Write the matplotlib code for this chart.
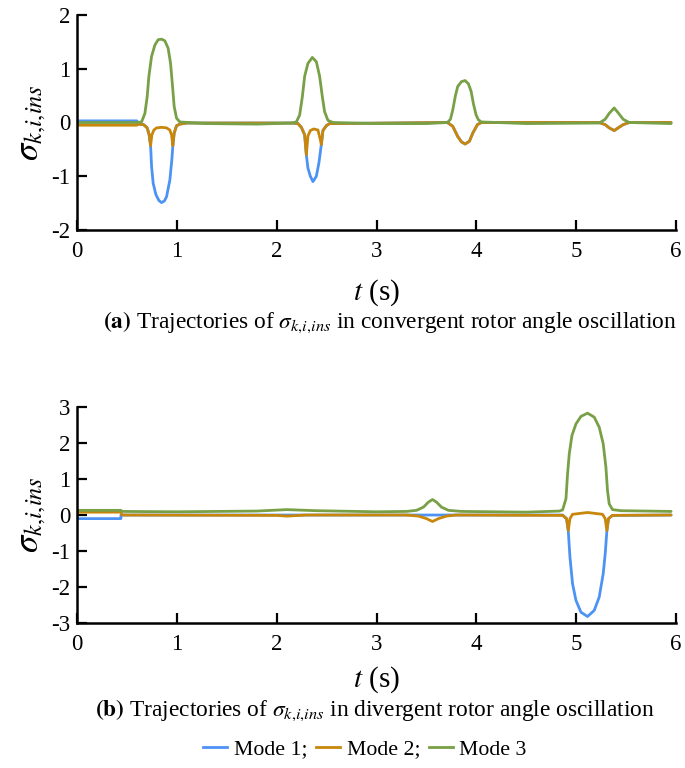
import matplotlib
matplotlib.use('Agg')
import matplotlib.pyplot as plt
from matplotlib.lines import Line2D

plt.rcParams['font.family'] = ['Liberation Serif', 'DejaVu Serif']
plt.rcParams['mathtext.fontset'] = 'stix'
plt.rcParams['axes.unicode_minus'] = False

# ---- (a) convergent oscillation ----
ta_m1 = [0, 0.6, 0.613, 0.667, 0.703, 0.723, 0.737, 0.747, 0.763, 0.79, 0.82, 0.847, 0.875, 0.897,
         0.93, 0.95, 0.96, 0.973, 0.997, 1.03, 1.1, 2.15, 2.213, 2.247, 2.28, 2.297, 2.313, 2.337,
         2.363, 2.397, 2.423, 2.447, 2.463, 2.497, 2.53,
         3.71, 3.763, 3.813, 3.85, 3.887, 3.93, 3.963, 4.01, 4.05,
         5.23, 5.29, 5.33, 5.38, 5.42, 5.47, 5.53, 5.95]
sa_m1 = [0.03, 0.03, -0.03, -0.04, -0.1, -0.23, -0.43, -0.82, -1.13, -1.34, -1.45, -1.49, -1.46,
         -1.38, -1.07, -0.69, -0.43, -0.2, -0.06, -0.03, -0.01, -0.01, -0.02, -0.09, -0.23, -0.6,
         -0.85, -1.0, -1.1, -1.0, -0.75, -0.41, -0.15, -0.06, -0.02,
         0.0, -0.07, -0.26, -0.36, -0.4, -0.35, -0.2, -0.04, 0.0,
         0.0, -0.04, -0.1, -0.15, -0.1, -0.04, 0.0, 0.0]

ta_m2 = [0, 0.6, 0.613, 0.667, 0.703, 0.723, 0.737, 0.75, 0.77, 0.797, 0.847, 0.897, 0.93, 0.947,
         0.96, 0.973, 0.997, 1.03, 1.1, 2.15, 2.213, 2.247, 2.28, 2.297, 2.313, 2.337, 2.37, 2.413,
         2.437, 2.447, 2.463, 2.497, 2.53,
         3.71, 3.763, 3.813, 3.85, 3.887, 3.93, 3.963, 4.01, 4.05,
         5.23, 5.29, 5.33, 5.38, 5.42, 5.47, 5.53, 5.95]
sa_m2 = [-0.05, -0.05, -0.03, -0.04, -0.1, -0.23, -0.43, -0.23, -0.14, -0.1, -0.09, -0.1, -0.14,
         -0.23, -0.43, -0.2, -0.06, -0.03, -0.01, -0.01, -0.02, -0.09, -0.23, -0.6, -0.25, -0.15,
         -0.12, -0.14, -0.32, -0.41, -0.15, -0.06, -0.02,
         0.0, -0.07, -0.26, -0.36, -0.4, -0.35, -0.2, -0.04, 0.0,
         0.0, -0.04, -0.1, -0.15, -0.1, -0.04, 0.0, 0.0]

ta_m3 = [0, 0.6, 0.647, 0.68, 0.703, 0.72, 0.747, 0.78, 0.813, 0.847, 0.88, 0.913, 0.937, 0.957,
         0.973, 0.997, 1.03, 1.3, 1.8, 2.15, 2.197, 2.23, 2.257, 2.28, 2.313, 2.357, 2.397, 2.43,
         2.457, 2.48, 2.513, 2.563, 3.0, 3.5,
         3.71, 3.74, 3.763, 3.79, 3.813, 3.85, 3.887, 3.92, 3.947, 3.97, 3.997, 4.02, 4.05, 4.5,
         5.23, 5.29, 5.33, 5.38, 5.42, 5.47, 5.53, 5.95]
sa_m3 = [0.0, 0.0, 0.01, 0.17, 0.48, 0.86, 1.23, 1.44, 1.54, 1.55, 1.52, 1.38, 1.1, 0.67, 0.3,
         0.08, 0.01, -0.02, -0.03, -0.01, 0.01, 0.14, 0.48, 0.86, 1.1, 1.21, 1.13, 0.86, 0.48, 0.2,
         0.04, 0.0, -0.02, -0.02,
         0.0, 0.06, 0.23, 0.5, 0.67, 0.76, 0.78, 0.72, 0.58, 0.35, 0.14, 0.05, 0.01, -0.02,
         -0.01, 0.06, 0.17, 0.27, 0.18, 0.06, 0.0, -0.02]

# ---- (b) divergent oscillation ----
tb_m1 = [0, 0, 0.44, 0.44, 0.45, 4.863, 4.903, 4.92, 4.937, 4.963, 4.997, 5.047, 5.113, 5.18,
         5.23, 5.27, 5.29, 5.307, 5.323, 5.363, 5.95]
sb_m1 = [0.08, -0.1, -0.1, 0.0, 0.0, 0.0, -0.1, -0.43, -1.17, -1.91, -2.37, -2.7, -2.82, -2.65,
         -2.28, -1.63, -1.08, -0.43, -0.1, -0.01, 0.0]

tb_m2 = [0, 0.44, 0.45, 2.0, 2.1, 2.3, 3.3, 3.42, 3.5, 3.56, 3.62, 3.7, 3.8, 4.863, 4.903, 4.92,
         4.937, 4.963, 5.113, 5.263, 5.29, 5.307, 5.323, 5.363, 5.95]
sb_m2 = [0.08, 0.08, 0.0, -0.01, -0.03, 0.0, 0.0, -0.03, -0.1, -0.18, -0.1, -0.03, 0.0, -0.01,
         -0.1, -0.43, -0.1, 0.02, 0.07, 0.02, -0.1, -0.43, -0.1, -0.01, 0.0]

tb_m3 = [0, 0.44, 0.45, 1.0, 1.8, 2.1, 2.4, 3.0, 3.3, 3.4, 3.47, 3.52, 3.56, 3.6, 3.65, 3.72,
         3.85, 4.5, 4.83, 4.863, 4.897, 4.913, 4.93, 4.957, 4.997, 5.047, 5.113, 5.18, 5.23, 5.27,
         5.297, 5.313, 5.33, 5.363, 5.45, 5.95]
sb_m3 = [0.13, 0.13, 0.1, 0.09, 0.11, 0.15, 0.12, 0.09, 0.1, 0.13, 0.22, 0.36, 0.43, 0.36, 0.22,
         0.13, 0.1, 0.08, 0.11, 0.14, 0.45, 1.14, 1.7, 2.21, 2.53, 2.74, 2.83, 2.72, 2.44, 1.98,
         1.33, 0.68, 0.31, 0.15, 0.12, 0.1]

mode_names = ['Mode 1;', 'Mode 2;', 'Mode 3']
colors = ['#4C93F5', '#C8860B', '#78A046']

fig = plt.figure(figsize=(6.85, 7.68), dpi=100)
ax1 = fig.add_axes([0.1124, 0.7005, 0.8746, 0.28])
ax2 = fig.add_axes([0.1124, 0.1888, 0.8746, 0.2812])

panels = [
    (ax1, [(ta_m1, sa_m1), (ta_m2, sa_m2), (ta_m3, sa_m3)], (-2, 2), range(-2, 3), 11),
    (ax2, [(tb_m1, sb_m1), (tb_m2, sb_m2), (tb_m3, sb_m3)], (-3, 3), range(-3, 4), 7),
]
for ax, curves, ylim, yt, lpad in panels:
    for (t, s), c in zip(curves, colors):
        ax.plot(t, s, color=c, lw=2.0, solid_joinstyle='round', solid_capstyle='round')
    ax.set_xlim(0, 6)
    ax.set_ylim(*ylim)
    ax.set_xticks(range(0, 7))
    ax.set_yticks(list(yt))
    for sp in ['top', 'right']:
        ax.spines[sp].set_visible(False)
    for sp in ['left', 'bottom']:
        ax.spines[sp].set_linewidth(1.8)
    ax.tick_params(direction='in', length=7, width=1.6, labelsize=16.5, pad=5)
    ax.tick_params(axis='x', pad=8)
    ax.set_xlabel('$t$ (s)', fontsize=21, labelpad=lpad)
    ax.set_ylabel(r'$\sigma_{k{,}i{,}ins}$', fontsize=25, labelpad=2)

fig.text(0.569, 0.581, r'$\mathbf{(a)}$ Trajectories of $\sigma_{k{,}i{,}ins}$ in convergent rotor angle oscillation',
         ha='center', va='center', fontsize=16.8)
fig.text(0.547, 0.075, r'$\mathbf{(b)}$ Trajectories of $\sigma_{k{,}i{,}ins}$ in divergent rotor angle oscillation',
         ha='center', va='center', fontsize=16.8)

handles = [Line2D([], [], color=c, lw=2.0) for c in colors]
fig.legend(handles, mode_names, loc='center', bbox_to_anchor=(0.533, 0.024), ncol=3,
           frameon=False, fontsize=15.7, handlelength=1.1, handletextpad=0.3, columnspacing=0.4)

fig.savefig('out.png', dpi=100)
